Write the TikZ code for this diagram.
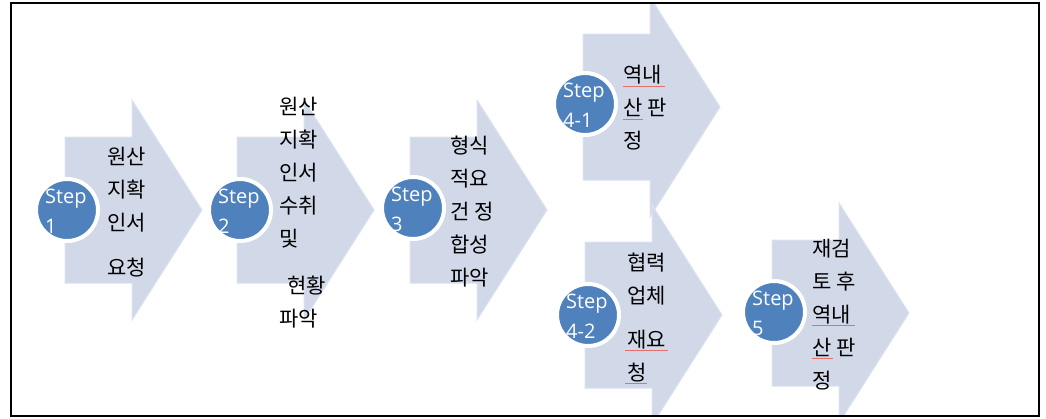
\documentclass[tikz,border=0pt]{standalone}
\usepackage{fontspec}
\setmainfont{Open Sans}
\newfontfamily\kofont{Noto Sans CJK KR}
\usetikzlibrary{calc}
\definecolor{arrowfill}{RGB}{209,217,233}
\definecolor{arrowedge}{RGB}{220,226,240}
\definecolor{stepblue}{RGB}{79,129,189}
\definecolor{spellred}{RGB}{232,110,110}
\tikzset{
	stepcirc/.style={fill=stepblue, draw=white, line width=4pt},
	steptext/.style={white, align=left, anchor=base west, inner sep=0pt, font=\fontsize{20}{30}\selectfont},
	kotext/.style={black, align=left, anchor=base west, inner sep=0pt, font=\kofont\fontsize{21}{33}\selectfont},
	spell/.style={spellred, line width=1pt}
}
% base of a text block = baseline of its last line
\def\steparrow(#1,#2){\draw[fill=arrowfill, draw=arrowedge, line width=1pt] (#1,#2-73) -- ++(67,0) -- ++(0,-37) -- (#1+137,#2) -- (#1+67,#2+110) -- ++(0,-37) -- (#1,#2+73) -- cycle;}
\def\stepcircle(#1,#2)#3#4{\draw[stepcirc] (#1,#2) circle (31); \node[steptext] (#3) at ($(#1,#2)+(-22,23)$) {Step\\#4};}

\begin{document}
\begin{tikzpicture}[x=1pt, y=-1pt]
			%%%%% START %%%%%
			\useasboundingbox (0,0) rectangle (1046,418);
			
			\begin{scope}
				\clip (12,4) rectangle (1038,415);
				\steparrow(65,210)
				\steparrow(237,210)
				\steparrow(410,210)
				\steparrow(583,107)
				\steparrow(585,315)
				\steparrow(772,313)
			\end{scope}
			
			\stepcircle(67,210){s1}{1}
			\stepcircle(240,210){s2}{2}
			\stepcircle(413,208){s3}{3}
			\stepcircle(585,104){s41}{4-1}
			\stepcircle(588,315){s42}{4-2}
			\stepcircle(774,312){s5}{5}
			
			\node[kotext] (t1) at (107,275) {원산\\지확\\인서\\[12pt]요청};
			\node[kotext] (t2) at (279,326) {원산\\지확\\인서\\수취\\및\\[14pt]\hspace{8pt}현황\\파악};
			\node[kotext] (t3) at (450,285) {형식\\적요\\건 정\\합성\\파악};
			\node[kotext] (t41) at (623,148) {역내\\산 판\\정};
			\node[kotext] (t42) at (627,380) {협력\\업체\\[11pt]재요\\청};
			\node[kotext] (t5) at (812,388) {재검\\토 후\\역내\\산 판\\정};
			
			% spell check marks
			\draw[spell] (623,86) -- (665,86);
			\draw[spell] (623,119) -- (643,119);
			\draw[spell] (625,350) -- (668,350);
			\draw[spell] (625,383) -- (647,383);
			\draw[spell] (812,325) -- (855,325);
			\draw[spell] (812,358) -- (833,358);
			
			\draw[line width=2pt] (11,3) rectangle (1039,416);
			%%%%% END %%%%%
\end{tikzpicture}
\end{document}
